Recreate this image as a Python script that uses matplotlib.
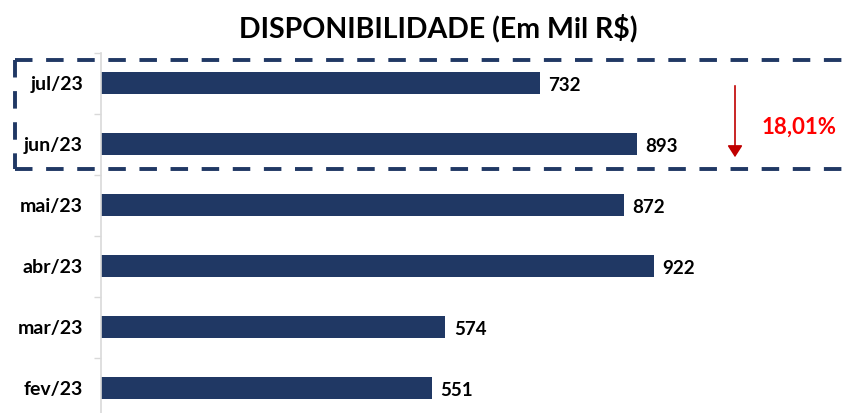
import matplotlib.pyplot as plt
from matplotlib.patches import FancyArrowPatch
import numpy as np

plt.rcParams['font.family'] = ['Lato', 'DejaVu Sans']

meses = ['fev/23', 'mar/23', 'abr/23', 'mai/23', 'jun/23', 'jul/23']
valores = [551, 574, 922, 872, 893, 732]
variacao = '18,01%'

cor_barra = '#203864'

fig = plt.figure(figsize=(8.42, 4.13), dpi=100)
H = 413.0
W = 842.0
# axes: left at x=101px, top at y=53px, runs off the bottom of the figure
ax = fig.add_axes([101 / W, 1 - 418.5 / H, 600 / W, (418.5 - 53) / H])

y = np.arange(len(meses))
ax.barh(y, valores, height=0.36, color=cor_barra)
for yi, v in zip(y, valores):
    ax.annotate(str(v), (v, yi), xytext=(6, -1.5), textcoords='offset points',
                ha='left', va='center', fontsize=13.5, fontweight='bold', color='black')

ax.set_xlim(0, 1000)
ax.set_ylim(-0.5, len(meses) - 0.5)
ax.set_yticks(y)
ax.set_yticklabels(meses, fontsize=14, fontweight='bold')
ax.set_yticks(np.arange(-0.5, len(meses), 1), minor=True)
ax.tick_params(axis='y', which='major', length=0, pad=13)
ax.tick_params(axis='y', which='minor', length=5, color='#D9D9D9', width=1)
ax.set_xticks([])
for s in ['top', 'right', 'bottom']:
    ax.spines[s].set_visible(False)
ax.spines['left'].set_color('#D9D9D9')
ax.spines['left'].set_linewidth(1.2)

fig.text(438 / W, 1 - 28 / H, 'DISPONIBILIDADE (Em Mil R$)', ha='center', va='center',
         fontsize=20.5, fontweight='bold', color='black')

# dashed box around jun/jul
box_kw = dict(color=cor_barra, lw=2.8, linestyle=(0, (4.5, 3.5)), transform=fig.transFigure)
x0, x1 = 15 / W, 842 / W
yt, yb = 1 - 60 / H, 1 - 169 / H
fig.add_artist(plt.Line2D([x0, x1], [yt, yt], **box_kw))
fig.add_artist(plt.Line2D([x0, x1], [yb, yb], **box_kw))
fig.add_artist(plt.Line2D([x0, x0], [yt, yb], **box_kw))

arrow = FancyArrowPatch((735 / W, 1 - 83 / H), (735 / W, 1 - 160 / H), transform=fig.transFigure,
                        arrowstyle='-|>,head_length=7,head_width=4.5', color='#C00000', lw=1.2)
fig.add_artist(arrow)
fig.text(799 / W, 1 - 127 / H, variacao, ha='center', va='center', fontsize=16,
         fontweight='bold', color='#FF0000')

fig.savefig('out.png', dpi=100)
